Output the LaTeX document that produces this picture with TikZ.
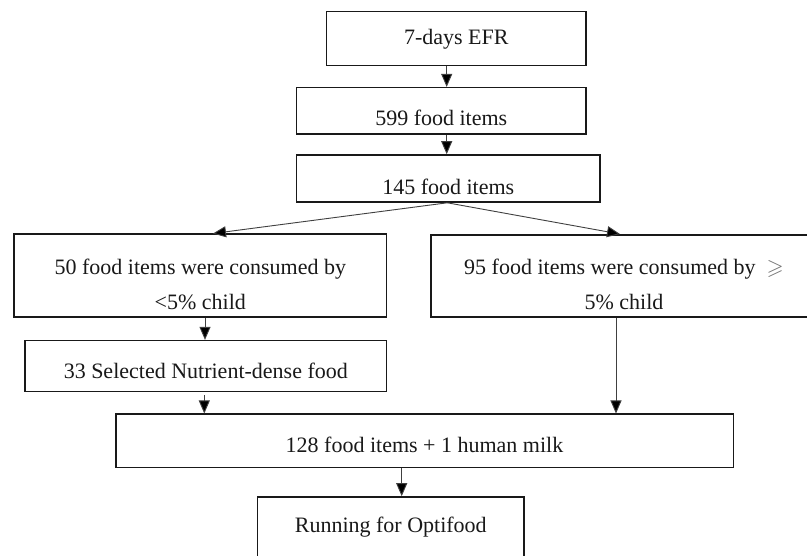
\documentclass[tikz,border=0pt]{standalone}
\usepackage{amssymb}
\usepackage{fontspec}
\setmainfont{Liberation Serif}
\usetikzlibrary{arrows.meta}
\tikzset{
  box/.style={draw=black!90, line width=1.6pt, rectangle, inner sep=0pt},
  arr/.style={draw=black!75, line width=0.9pt, -{Triangle[length=13pt,width=11pt,fill=black]}},
  lbl/.style={font=\fontsize{22}{35}\selectfont, text=black!90, align=center, inner sep=0pt}
}
\begin{document}
\begin{tikzpicture}[x=1pt,y=-1pt]
\clip (0,0) rectangle (807,556);
\fill[white] (0,0) rectangle (807,556);
\node[box, minimum width=259.3pt, minimum height=54pt,
  label={[lbl, name=t1, yshift=-0.5pt]center:7-days EFR}] (b1) at (456.3,38.7) {};
\node[box, minimum width=289.3pt, minimum height=46.6pt,
  label={[lbl, name=t2, yshift=-6.5pt]center:599 food items}] (b2) at (441.3,111) {};
\node[box, minimum width=303.3pt, minimum height=47pt,
  label={[lbl, name=t3, yshift=-8pt]center:145 food items}] (b3) at (448.3,178.5) {};
\node[box, minimum width=372.7pt, minimum height=83pt,
  label={[lbl, name=t4, yshift=-8.5pt]center:50 food items were consumed by\\<5\% child}] (b4) at (200.3,275.8) {};
\node[box, minimum width=386pt, minimum height=82.3pt,
  label={[lbl, name=t5, yshift=-8.5pt]center:95 food items were consumed by \ {\color{black!55}$\geqslant$}\\5\% child}] (b5) at (624,276) {};
\node[box, minimum width=361.7pt, minimum height=51pt,
  label={[lbl, name=t6, yshift=-4.5pt]center:33 Selected Nutrient-dense food}] (b6) at (205.8,366.2) {};
\node[box, minimum width=617.6pt, minimum height=53pt,
  label={[lbl, name=t7, yshift=-4pt]center:128 food items + 1 human milk}] (b7) at (424.5,440.8) {};
\node[box, minimum width=266.3pt, minimum height=60pt,
  label={[lbl, name=t8]center:Running for Optifood}] (b8) at (390.8,527) {};

\draw[arr] ([xshift=-9.6pt]b1.south) -- ([xshift=-9.6pt]b1.south |- b2.north);
\draw[arr] ([xshift=5.4pt]b2.south) -- ([xshift=5.4pt]b2.south |- b3.north);
\draw[arr] ([xshift=-1pt]b3.south) -- ([xshift=12.7pt]b4.north);
\draw[arr] ([xshift=-1pt]b3.south) -- ([xshift=-4pt]b5.north);
\draw[arr] ([xshift=4.7pt]b4.south) -- ([xshift=4.7pt]b4.south |- b6.north);
\draw[arr] ([xshift=-1.5pt,yshift=-3pt]b6.south) -- ([xshift=-1.5pt]b6.south |- b7.north);
\draw[arr] ([xshift=-8pt]b5.south) -- ([xshift=-8pt]b5.south |- b7.north);
\draw[arr] ([xshift=-22.8pt]b7.south) -- ([xshift=-22.8pt]b7.south |- b8.north);
\end{tikzpicture}
\end{document}
